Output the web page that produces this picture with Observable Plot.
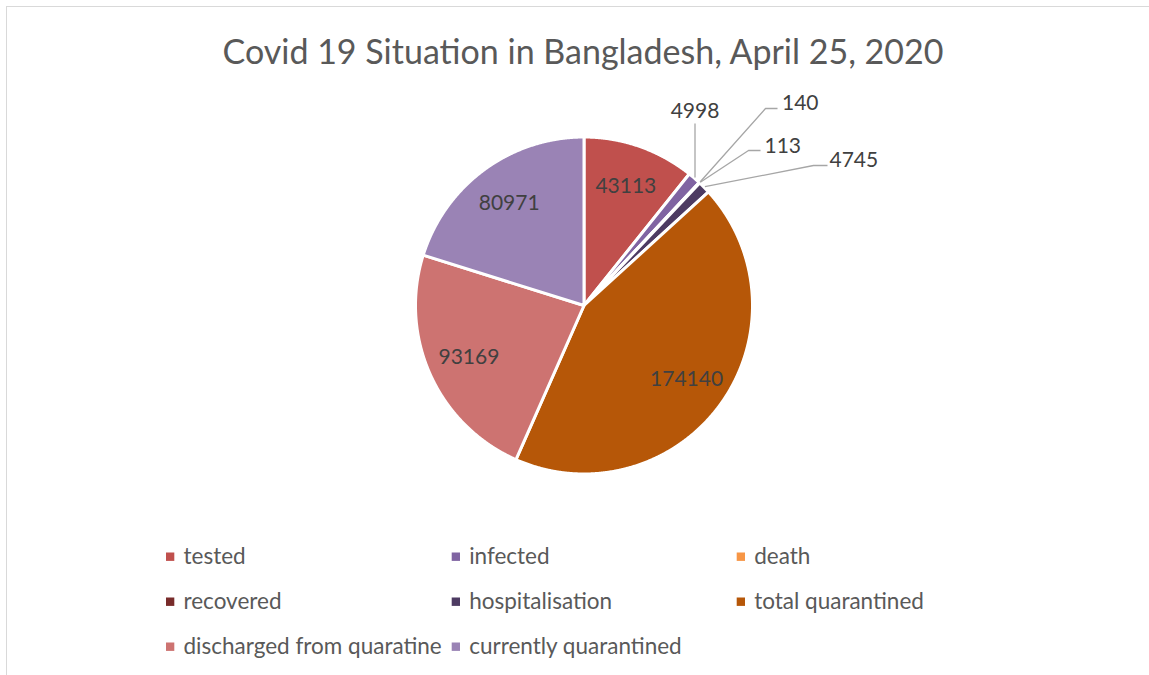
<!DOCTYPE html>
<html><head><meta charset="utf-8">
<script src="https://cdn.jsdelivr.net/npm/d3@7"></script>
<script src="https://cdn.jsdelivr.net/npm/@observablehq/plot@0.6"></script>
<style>
body{margin:0;background:#fff;}
#chart{position:absolute;left:0;top:0;}
#frame{position:absolute;left:6px;top:6px;width:1300px;height:800px;border-left:1.5px solid #d9d9d9;border-top:1.5px solid #d9d9d9;pointer-events:none;}
</style></head><body>
<div id="chart"></div>
<div id="frame"></div>
<script>
// ---- data ----
const title = "Covid 19 Situation in Bangladesh, April 25, 2020";
const categories = ["tested","infected","death","recovered","hospitalisation","total quarantined","discharged from quaratine","currently quarantined"];
const values = [43113, 4998, 140, 113, 4745, 174140, 93169, 80971];
const colors = ["#C0504D","#8064A2","#F79646","#782B2A","#4D3B62","#B65708","#CD7371","#9A83B5"];
const insideLabelCats = ["tested","total quarantined","discharged from quaratine","currently quarantined"];

// ---- layout ----
const W = 1149, H = 675, CX = 583.5, CY = 305, R = 168.5;
const insideR = 0.75;
// callout layout (pixel offsets from pie centre): elbow, end of horizontal, text
const calloutLayout = {
  "infected":        {elbow: null, end: [null, -182], text: [null, -194], anchor: "middle"},
  "death":           {elbow: [181.5, -197], end: [193.5, -197], text: [198, -202.5], anchor: "start"},
  "recovered":       {elbow: [164.5, -155], end: [176.5, -155], text: [180.5, -159.5], anchor: "start"},
  "hospitalisation": {elbow: [229.5, -140], end: [243.5, -140], text: [245.5, -145.5], anchor: "start"}
};
const legendColX = [166, 451.7, 736.7];
const legendRowY = [556.7, 601.7, 646.7];

// ---- build ----
const table = categories.map((c, i) => ({category: c, value: values[i]}));
const arcs = d3.pie().sort(null).value(d => d.value).startAngle(0).endAngle(2 * Math.PI)(table);

const slicePts = [];
for (const a of arcs) {
  const cat = a.data.category;
  slicePts.push({category: cat, x: 0, y: 0});
  const n = Math.max(2, Math.ceil((a.endAngle - a.startAngle) / (Math.PI / 720)));
  for (let k = 0; k <= n; k++) {
    const t = a.startAngle + (a.endAngle - a.startAngle) * k / n;
    slicePts.push({category: cat, x: R * Math.sin(t), y: -R * Math.cos(t)});
  }
  slicePts.push({category: cat, x: 0, y: 0});
}

const inside = arcs.filter(a => insideLabelCats.includes(a.data.category)).map(a => {
  const m = (a.startAngle + a.endAngle) / 2;
  return {label: String(a.data.value), x: insideR * R * Math.sin(m), y: -insideR * R * Math.cos(m)};
});

const calloutLines = [], calloutTexts = [];
for (const a of arcs) {
  const L = calloutLayout[a.data.category];
  if (!L) continue;
  const m = (a.startAngle + a.endAngle) / 2;
  const ax = (R + 1) * Math.sin(m), ay = -(R + 1) * Math.cos(m);
  const cat = a.data.category;
  calloutLines.push({category: cat, x: ax, y: ay});
  if (L.elbow) calloutLines.push({category: cat, x: L.elbow[0], y: L.elbow[1]});
  calloutLines.push({category: cat, x: L.end[0] ?? ax, y: L.end[1]});
  calloutTexts.push({label: String(a.data.value), x: L.text[0] ?? ax, y: L.text[1], anchor: L.anchor});
}

const legend = categories.map((c, i) => ({
  category: c,
  x: legendColX[i % 3] - CX,
  y: legendRowY[Math.floor(i / 3)] - CY
}));

const plot = Plot.plot({
  width: W, height: H, margin: 0,
  x: {domain: [-CX, W - CX], range: [0, W], axis: null},
  y: {domain: [-CY, H - CY], range: [0, H], axis: null},
  color: {domain: categories, range: colors},
  style: {fontFamily: "Lato, 'Open Sans', sans-serif", background: "transparent"},
  marks: [
    Plot.line(slicePts, {x: "x", y: "y", z: "category", fill: "category", stroke: "white", strokeWidth: 3, curve: "linear"}),
    Plot.line(calloutLines, {x: "x", y: "y", z: "category", stroke: "#A6A6A6", strokeWidth: 1.3, strokeLinecap: "butt"}),
    Plot.text(inside, {x: "x", y: "y", text: "label", fontSize: 21, fill: "#404040"}),
    Plot.text(calloutTexts.filter(d => d.anchor === "middle"), {x: "x", y: "y", text: "label", textAnchor: "middle", fontSize: 21, fill: "#404040"}),
    Plot.text(calloutTexts.filter(d => d.anchor === "start"), {x: "x", y: "y", text: "label", textAnchor: "start", fontSize: 21, fill: "#404040"}),
    Plot.text([title], {x: -1, y: 53 - CY, text: d => d, fontSize: 34, fill: "#595959"}),
    Plot.rect(legend, {x1: "x", x2: d => d.x + 8.3, y1: d => d.y - 4.2, y2: d => d.y + 4.2, fill: "category"}),
    Plot.text(legend, {x: d => d.x + 17, y: "y", text: "category", textAnchor: "start", fontSize: 22.5, fill: "#595959"})
  ]
});
document.getElementById("chart").appendChild(plot);
</script>
</body></html>
